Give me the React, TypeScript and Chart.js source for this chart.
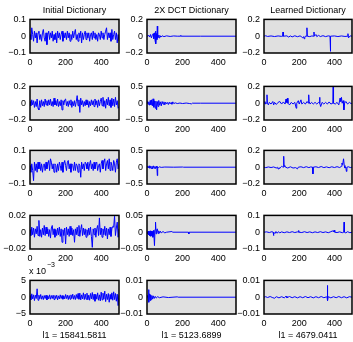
import React, { useEffect, useRef } from "react";
import { Chart, registerables } from "chart.js";
Chart.register(...registerables);

const FONT = '"Liberation Sans", Arial, Helvetica, sans-serif';

// ---------- text ----------
const columnTitles = ["Initial Dictionary", "2X DCT Dictionary", "Learned Dictionary"];
const l1Labels = ["l1 = 15841.5811", "l1 = 5123.6899", "l1 = 4679.0411"];
const xTicks = [0, 200, 400];
const xMax = 500;

// y limits per row (columns: initial, dct, learned)
const yLimits = [
  [0.1, 0.2, 0.2],
  [0.2, 0.5, 0.2],
  [0.1, 0.5, 0.2],
  [0.02, 0.05, 0.1],
  [0.005, 0.01, 0.01],
];
const yTickLabels = [
  [["−0.1", "0", "0.1"], ["−0.2", "0", "0.2"], ["−0.2", "0", "0.2"]],
  [["−0.2", "0", "0.2"], ["−0.5", "0", "0.5"], ["−0.2", "0", "0.2"]],
  [["−0.1", "0", "0.1"], ["−0.5", "0", "0.5"], ["−0.2", "0", "0.2"]],
  [["−0.02", "0", "0.02"], ["−0.05", "0", "0.05"], ["−0.1", "0", "0.1"]],
  [["−5", "0", "5"], ["−0.01", "0", "0.01"], ["−0.01", "0", "0.01"]],
];

// ---------- Initial dictionary atoms (sampled every 5) ----------
const initialStep = 5;
const initialRow1 = [0.01,-0.02,0.05,0.01,-0.03,0.03,-0.01,0.02,-0.04,0.02,
0.03,-0.02,0.01,-0.03,0.02,0.04,-0.01,-0.03,0.02,-0.05,
0.01,0.03,-0.02,0.02,-0.01,0.03,-0.03,0.01,-0.02,0.02,
-0.04,0.03,-0.01,0.02,-0.02,0.01,0.03,-0.03,0.02,-0.01,
0.02,-0.02,0.03,-0.01,0.02,-0.03,0.01,-0.02,0.03,-0.01,
0.02,0.04,-0.02,0.01,-0.03,0.02,-0.01,0.03,-0.04,0.02,
-0.02,0.01,0.03,-0.02,0.02,-0.01,0.02,-0.03,0.01,0.02,
-0.02,0.03,-0.01,0.02,-0.02,0.01,-0.03,0.02,0.01,-0.02,
0.03,-0.01,0.02,-0.02,0.01,0.03,0.05,-0.02,0.02,-0.01,
0.02,-0.03,0.04,-0.02,0.01,0.03,-0.02,0.02,-0.04,0.01,-0.03];
const initialRow2 = [0.02,-0.03,0.04,-0.02,0.03,-0.05,0.02,-0.04,0.05,-0.06,
-0.08,0.03,-0.05,0.04,-0.03,0.02,-0.04,0.05,-0.02,0.03,
-0.03,0.04,-0.02,0.05,-0.03,0.02,-0.04,0.06,-0.02,0.03,
-0.03,0.05,-0.04,0.02,-0.03,0.04,-0.08,0.03,-0.02,0.04,
0.05,-0.03,0.02,-0.04,0.03,-0.02,0.04,-0.05,0.02,-0.03,
0.03,-0.04,0.02,0.09,-0.03,0.04,-0.11,0.06,-0.02,0.03,
-0.04,0.02,-0.03,0.04,-0.02,0.03,-0.05,0.02,-0.03,0.04,
-0.02,0.03,-0.04,0.05,-0.02,0.03,-0.05,0.04,-0.03,0.02,
0.06,-0.03,0.07,-0.04,0.03,-0.06,0.05,-0.02,0.07,-0.03,
0.04,-0.05,0.06,-0.03,0.05,-0.04,0.07,-0.02,0.03,-0.06,-0.04];
const initialRow3 = [0.01,-0.03,0.02,-0.02,-0.08,0.03,-0.02,0.02,-0.03,0.03,
-0.01,0.03,-0.02,0.02,-0.03,0.01,0.02,-0.02,0.03,-0.01,
0.02,0.04,-0.02,0.05,0.03,-0.01,0.02,-0.03,0.02,0.01,
-0.03,0.02,-0.02,0.03,0.01,-0.02,0.03,-0.03,0.02,0.04,
0.01,-0.02,0.03,0.04,-0.01,0.02,-0.03,0.02,0.01,-0.02,
0.03,-0.02,0.02,0.01,-0.03,0.02,0.01,-0.06,0.03,-0.01,
0.02,-0.02,0.03,0.02,-0.01,0.03,-0.02,0.02,0.04,-0.01,
0.02,-0.02,0.03,-0.01,0.02,0.03,-0.02,0.01,0.02,-0.03,
0.02,0.04,-0.01,0.03,0.05,-0.02,0.02,0.04,-0.01,0.05,
-0.02,0.03,0.01,-0.02,0.04,0.02,-0.03,0.03,0.05,-0.01,0.02];
const initialRow4 = [0.003,-0.004,0.006,-0.003,0.005,-0.006,0.004,-0.002,0.007,-0.004,
0.014,-0.005,0.003,-0.006,0.005,-0.003,0.008,-0.004,0.006,-0.002,
0.004,-0.005,0.003,-0.007,0.005,0.008,-0.003,0.004,-0.006,0.003,
-0.004,0.005,-0.003,0.006,-0.005,0.004,-0.012,0.003,-0.004,0.005,
-0.014,0.006,-0.003,0.004,-0.005,0.007,-0.003,0.005,-0.004,0.003,
-0.012,0.004,-0.003,0.006,-0.004,0.008,-0.005,0.003,0.009,-0.004,
0.005,-0.003,0.004,-0.006,0.003,-0.004,0.005,-0.003,0.006,-0.005,
-0.018,0.004,-0.003,0.005,-0.006,0.004,0.008,-0.004,0.017,-0.003,
0.005,-0.006,0.004,-0.003,0.007,-0.004,0.005,-0.008,0.004,-0.003,
0.006,-0.005,0.004,0.007,0.006,0.019,-0.004,0.005,0.012,-0.006,0.004];
const initialRow5 = [0.0005,-0.0008,0.001,-0.0005,0.0007,-0.001,0.0006,-0.0004,0.0025,-0.0009,
0.0006,-0.0005,0.0008,-0.0006,0.0004,-0.0007,0.0005,-0.0004,0.0006,-0.0008,
0.0004,-0.0005,0.0007,-0.0006,0.0005,-0.0004,0.0006,-0.0007,0.0005,-0.0004,
0.0006,-0.0008,0.0004,-0.0005,0.0007,-0.0004,0.0005,-0.0006,0.0004,-0.0005,
0.0008,-0.0004,0.0006,-0.0007,0.0005,-0.0006,0.0007,-0.0004,0.0009,-0.0006,
0.0005,-0.0007,0.0008,-0.0004,0.0011,-0.0006,0.0012,-0.0008,0.0007,-0.0005,
0.0013,-0.0007,0.0009,-0.0006,0.0012,-0.0008,0.0006,-0.0009,0.0011,-0.0005,
0.0014,-0.0007,0.0009,-0.0012,0.0008,-0.0006,0.0013,-0.0009,0.0007,-0.0011,
0.0015,-0.0008,0.0012,-0.0006,0.0018,-0.0013,0.0009,-0.0007,0.0011,-0.0015,
0.0008,-0.0006,0.0013,-0.0009,0.0016,-0.0007,0.0011,-0.0012,0.0009,-0.0025,0.0006];

// ---------- 2X DCT dictionary atoms ([index, value]) ----------
const dctRow1 = [[0,0],[5,0.005],[10,0.01],[15,-0.01],[20,0.02],[25,-0.02],[30,0.01],[35,0.03],[38,-0.03],[42,0.04],[45,-0.05],[48,0.06],[50,-0.09],[53,0.03],[56,-0.04],[58,0.12],[60,-0.02],[65,0.01],[68,-0.02],[72,0.01],[78,-0.01],[85,0.005],[95,-0.005],[110,0.004],[130,-0.003],[150,0.003],[170,0],[188,0],[190,0.01],[192,0],[300,0],[500,0]];
const dctRow2 = [[0,0],[3,0.05],[6,-0.03],[10,0.04],[14,-0.06],[18,0.08],[22,-0.05],[26,0.1],[30,-0.08],[34,0.13],[38,-0.12],[42,0.07],[46,-0.15],[50,0.06],[54,-0.2],[58,0.05],[62,-0.1],[66,0.08],[70,-0.06],[75,0.04],[80,-0.08],[85,0.05],[90,-0.03],[95,0.04],[100,-0.05],[105,0.03],[110,-0.02],[115,0.02],[120,-0.04],[125,0.03],[130,-0.02],[135,0.02],[140,-0.03],[145,0.04],[150,-0.01],[160,0.01],[170,-0.01],[185,0.005],[200,-0.01],[220,0.005],[240,-0.01],[250,-0.02],[255,0],[300,0],[500,0]];
const dctRow3 = [[0,0],[4,0.03],[8,-0.02],[12,0.04],[16,-0.03],[20,0.02],[24,-0.04],[28,0.03],[32,-0.05],[36,0.04],[40,-0.03],[44,0.02],[48,-0.04],[52,0.03],[56,-0.02],[58,-0.25],[60,0.01],[65,-0.01],[70,0.01],[80,-0.005],[100,0.005],[150,0],[200,0.005],[205,0],[500,0]];
const dctRow4 = [[0,0],[3,-0.005],[6,0.003],[9,-0.008],[12,0.002],[15,-0.01],[18,0.004],[21,-0.012],[24,0.003],[27,-0.01],[30,0.002],[33,-0.015],[36,0.005],[39,-0.01],[42,-0.04],[45,0.008],[48,0.03],[51,-0.005],[54,0.006],[58,0.01],[62,-0.004],[66,0.004],[70,-0.003],[75,0.003],[80,-0.002],[90,0.002],[100,-0.002],[110,0],[140,0.002],[145,0],[233,0],[235,-0.005],[237,0],[500,0]];
const dctRow5 = [[0,0],[3,0.001],[6,-0.001],[9,0.0045],[11,-0.003],[14,0.002],[17,-0.002],[20,0.0015],[23,-0.0015],[27,0.001],[31,-0.001],[35,0.0008],[40,-0.0008],[46,0.0005],[52,-0.0005],[60,0.0003],[70,-0.0003],[90,0.0002],[120,-0.0002],[170,0.0002],[175,0],[500,0]];

// ---------- Learned dictionary atoms ([index, value]) ----------
const learnedRow1 = [[0,0],[10,0.005],[20,-0.003],[40,0.003],[60,-0.004],[80,0.003],[100,-0.002],[106,0],[108,0.05],[110,0],[130,0.004],[140,-0.01],[150,0.003],[160,-0.008],[175,0.005],[190,-0.006],[205,0.004],[215,-0.01],[220,-0.02],[225,-0.005],[228,-0.03],[232,-0.01],[238,0.005],[242,0],[244,0.1],[246,0],[260,-0.005],[272,0.003],[282,0],[284,0.05],[286,0],[295,0.02],[300,-0.005],[310,0.01],[320,-0.004],[335,0.006],[350,-0.005],[365,0.004],[375,0],[377,-0.18],[379,0],[400,0.003],[420,-0.004],[440,0.003],[460,-0.003],[475,0],[477,0.03],[480,-0.02],[490,0.004],[500,0]];
const learnedRow2 = [[0,0],[5,0.02],[10,-0.01],[15,0],[17,0.1],[19,0],[25,-0.02],[30,0.01],[40,-0.01],[50,0.02],[55,-0.02],[60,0.01],[70,-0.015],[80,0.01],[90,0.02],[100,-0.01],[110,0.015],[120,-0.01],[125,0.05],[128,0.01],[133,0.06],[136,0],[145,-0.02],[155,0.01],[165,-0.01],[175,0.01],[183,-0.06],[186,0],[195,0.03],[200,-0.01],[210,0.04],[215,-0.01],[225,0.01],[235,-0.01],[245,0.02],[252,0],[254,0.1],[256,0.02],[262,-0.01],[270,0.01],[280,-0.01],[290,0.01],[300,-0.01],[310,0.01],[314,0],[316,0.07],[318,0],[322,-0.04],[330,0.01],[340,-0.01],[350,0.01],[360,-0.01],[370,0.015],[380,-0.01],[391,0],[393,0.2],[395,0],[405,-0.01],[415,0.01],[425,-0.02],[432,0.06],[436,0.02],[440,0.07],[444,0],[450,0.03],[454,-0.08],[458,0],[465,0.02],[475,-0.01],[485,0.01],[495,-0.005],[500,0]];
const learnedRow3 = [[0,0],[10,-0.005],[25,0.003],[40,-0.004],[55,0.003],[70,-0.01],[75,0],[80,-0.02],[85,-0.005],[90,-0.015],[95,0],[100,0.01],[105,0.005],[110,0],[112,0.13],[114,0.01],[118,0.02],[122,0],[135,-0.01],[150,0.005],[165,-0.01],[180,-0.005],[190,-0.02],[195,0],[210,0.005],[225,-0.005],[240,0.006],[255,-0.005],[265,0.003],[276,0],[278,-0.08],[280,0],[295,0.005],[310,-0.004],[325,0.008],[340,-0.005],[355,0.004],[370,-0.006],[385,0.005],[400,-0.004],[415,0.006],[430,-0.004],[440,0.01],[443,0.05],[447,0.03],[452,0.1],[456,0.02],[460,-0.01],[465,0],[468,-0.05],[471,0],[480,0.005],[490,-0.004],[500,0]];
const learnedRow4 = [[0,0],[15,0.002],[30,-0.002],[45,0.003],[52,0],[54,-0.02],[56,0],[62,-0.008],[68,0.004],[75,-0.006],[82,0.003],[90,-0.004],[100,0.002],[115,-0.003],[130,0.002],[145,-0.002],[160,0.003],[175,-0.002],[190,0.002],[195,0],[197,0.01],[199,0],[215,-0.002],[230,0.003],[245,-0.002],[260,0.002],[275,-0.003],[290,0.002],[305,-0.002],[320,0.003],[335,-0.002],[350,0.002],[365,-0.003],[380,0.003],[390,0.008],[394,0.002],[398,0.012],[402,0],[415,-0.002],[430,0.002],[445,-0.003],[453,0],[455,0.06],[457,0],[465,-0.004],[475,0.003],[488,-0.003],[500,0]];
const learnedRow5 = [[0,0],[10,0.0003],[20,-0.0002],[35,0.0004],[50,-0.0003],[60,-0.0006],[70,0.0003],[85,-0.0004],[100,0.0003],[115,-0.0004],[125,0.0006],[130,-0.0003],[145,0.0004],[160,-0.0003],[175,0.0003],[190,-0.0004],[205,0.0003],[220,-0.0003],[235,0.0004],[250,-0.0003],[265,0.0003],[280,-0.0004],[295,0.0003],[310,-0.0003],[325,0.0004],[340,-0.0003],[355,0.0002],[358,0],[360,0.007],[362,-0.002],[365,0.0003],[380,-0.0004],[395,0.0003],[410,-0.0003],[425,0.0004],[440,-0.0003],[455,0.0003],[470,-0.0004],[485,0.0003],[500,0]];

const initialRows = [initialRow1, initialRow2, initialRow3, initialRow4, initialRow5];
const dctRows = [dctRow1, dctRow2, dctRow3, dctRow4, dctRow5];
const learnedRows = [learnedRow1, learnedRow2, learnedRow3, learnedRow4, learnedRow5];

// ---------- layout ----------
const colLeft = [30, 147, 264];
const colWidth = [89, 89, 88];
const rowTop = [19, 86, 150, 215, 280];
const boxH = 36;
const AXIS_W = 34;
const AXIS_H = 16;
const PAD_TOP = 7;
const PAD_RIGHT = 3;
const TICK_SIZE = 9;

const boxPlugin = {
  id: "boxPlugin",
  beforeDatasetsDraw(chart: any) {
    const { ctx, chartArea: a } = chart;
    ctx.save();
    ctx.fillStyle = "#e0e0e0";
    ctx.fillRect(a.left, a.top, a.right - a.left, a.bottom - a.top);
    ctx.restore();
  },
  afterDatasetsDraw(chart: any) {
    const { ctx, chartArea: a } = chart;
    ctx.save();
    ctx.strokeStyle = "#000";
    ctx.lineWidth = 1.5;
    ctx.strokeRect(a.left, a.top, a.right - a.left, a.bottom - a.top);
    ctx.restore();
  },
};

function pointsFor(row: number, col: number) {
  if (col === 0) return initialRows[row].map((v, i) => ({ x: i * initialStep, y: v }));
  const src = col === 1 ? dctRows[row] : learnedRows[row];
  return src.map(([x, y]) => ({ x, y }));
}

function Panel({ row, col }: { row: number; col: number }) {
  const ref = useRef<HTMLCanvasElement>(null);
  const W = AXIS_W + colWidth[col] + PAD_RIGHT;
  const H = PAD_TOP + boxH + AXIS_H;
  useEffect(() => {
    const canvas = ref.current!;
    const lim = yLimits[row][col];
    const labels = yTickLabels[row][col];
    const yVals = [-lim, 0, lim];
    const font = { family: FONT, size: TICK_SIZE };
    const chart = new Chart(canvas, {
      type: "line",
      data: {
        datasets: [
          {
            data: pointsFor(row, col),
            borderColor: "#0000ff",
            borderWidth: 1,
            pointRadius: 0,
            tension: 0,
            fill: false,
          },
        ],
      },
      options: {
        animation: false,
        responsive: false,
        events: [],
        layout: { padding: { top: PAD_TOP, right: PAD_RIGHT, left: 0, bottom: 0 } },
        plugins: { legend: { display: false }, tooltip: { enabled: false } },
        scales: {
          x: {
            type: "linear",
            min: 0,
            max: xMax,
            grid: { display: false, drawTicks: false },
            border: { display: false },
            ticks: { font, color: "#000", padding: 4, maxRotation: 0, autoSkip: false },
            afterBuildTicks: (s: any) => {
              s.ticks = xTicks.map((v) => ({ value: v }));
            },
            afterFit: (s: any) => {
              s.height = AXIS_H;
            },
          },
          y: {
            type: "linear",
            min: -lim,
            max: lim,
            grid: { display: false, drawTicks: false },
            border: { display: false },
            ticks: {
              font,
              color: "#000",
              padding: 4,
              autoSkip: false,
              callback: (v: any) => {
                const idx = yVals.findIndex((t) => Math.abs(t - v) < lim * 1e-6);
                return idx >= 0 ? labels[idx] : "";
              },
            },
            afterBuildTicks: (s: any) => {
              s.ticks = yVals.map((v) => ({ value: v }));
            },
            afterFit: (s: any) => {
              s.width = AXIS_W;
            },
          },
        },
      } as any,
      plugins: [boxPlugin],
    });
    const a = chart.chartArea;
    canvas.style.left = colLeft[col] - a.left + "px";
    canvas.style.top = rowTop[row] - a.top + "px";
    return () => chart.destroy();
  }, [row, col]);
  return (
    <canvas
      ref={ref}
      width={W}
      height={H}
      style={{ position: "absolute", left: colLeft[col] - AXIS_W, top: rowTop[row] - PAD_TOP, width: W, height: H }}
    />
  );
}

export default function App() {
  const panels = [];
  for (let r = 0; r < 5; r++) for (let c = 0; c < 3; c++) panels.push(<Panel key={r + "-" + c} row={r} col={c} />);
  const textStyle: React.CSSProperties = {
    position: "absolute",
    fontFamily: FONT,
    fontSize: 9,
    lineHeight: "10px",
    color: "#000",
    textAlign: "center",
    whiteSpace: "nowrap",
  };
  return (
    <div style={{ position: "fixed", left: 0, top: 0, width: 353, height: 342, background: "#fff", overflow: "hidden" }}>
      {panels}
      {columnTitles.map((t, c) => (
        <div key={"t" + c} style={{ ...textStyle, left: colLeft[c], width: colWidth[c], top: 5 }}>{t}</div>
      ))}
      {l1Labels.map((t, c) => (
        <div key={"l" + c} style={{ ...textStyle, left: colLeft[c], width: colWidth[c], top: 330 }}>{t}</div>
      ))}
      <div style={{ ...textStyle, textAlign: "left", left: 29, top: 266 }}>x 10</div>
      <div style={{ ...textStyle, textAlign: "left", left: 47, top: 261, fontSize: 7, lineHeight: "7px" }}>−3</div>
    </div>
  );
}
